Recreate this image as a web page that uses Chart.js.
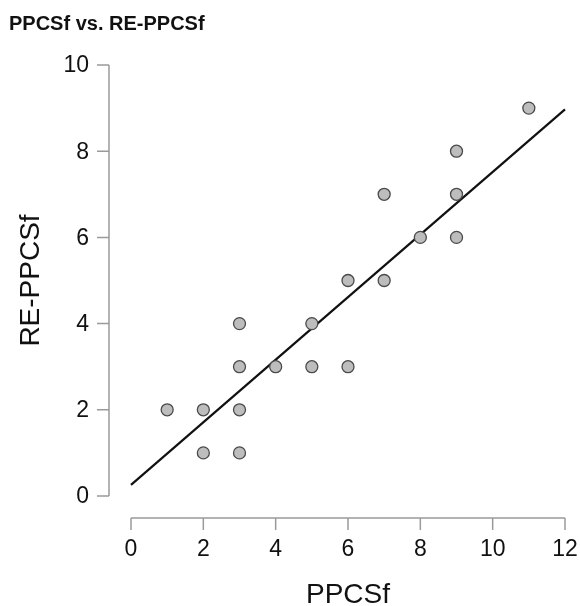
<!DOCTYPE html>
<html>
<head>
<meta charset="utf-8">
<script src="https://cdn.jsdelivr.net/npm/chart.js@4"></script>
<style>
  html, body { margin: 0; padding: 0; background: #fff; }
  #wrap { width: 580px; height: 606px; }
</style>
</head>
<body>
<div id="wrap"><canvas id="scatter"></canvas></div>
<script>
// observed pairs (PPCSf, RE-PPCSf)
const ppcsf   = [1, 2, 2, 3, 3, 3, 3, 4, 5, 5, 6, 6, 7, 7, 8, 9, 9, 9, 11];
const reppcsf = [2, 2, 1, 1, 2, 3, 4, 3, 3, 4, 3, 5, 5, 7, 6, 6, 7, 8, 9];

// fitted line, ends
const fitX = [0, 12];
const fitY = [0.26, 8.97];

const xTicks = [0, 2, 4, 6, 8, 10, 12];
const yTicks = [0, 2, 4, 6, 8, 10];

const chartTitle = "PPCSf vs. RE-PPCSf";
const xTitle = "PPCSf";
const yTitle = "RE-PPCSf";

const FONT = "'Liberation Sans', Arial, sans-serif";

// R-style detached axes drawn from the chart's own scales
const rAxes = {
    id: 'rAxes',
    afterDraw(chart) {
        const ctx = chart.ctx;
        const x = chart.scales.x, y = chart.scales.y;
        ctx.save();
        ctx.strokeStyle = '#9a9a9a';
        ctx.lineWidth = 1.5;

        // x axis
        const ax = y.getPixelForValue(0) + 22;
        ctx.beginPath();
        ctx.moveTo(x.getPixelForValue(xTicks[0]), ax);
        ctx.lineTo(x.getPixelForValue(xTicks[xTicks.length - 1]), ax);
        xTicks.forEach(v => {
            const px = x.getPixelForValue(v);
            ctx.moveTo(px, ax);
            ctx.lineTo(px, ax + 12);
        });
        ctx.stroke();

        // y axis
        const ay = x.getPixelForValue(0) - 22;
        ctx.beginPath();
        ctx.moveTo(ay, y.getPixelForValue(yTicks[0]));
        ctx.lineTo(ay, y.getPixelForValue(yTicks[yTicks.length - 1]));
        yTicks.forEach(v => {
            const py = y.getPixelForValue(v);
            ctx.moveTo(ay, py);
            ctx.lineTo(ay - 12, py);
        });
        ctx.stroke();

        // tick labels
        ctx.fillStyle = '#111';
        ctx.font = '23px ' + FONT;
        ctx.textAlign = 'center';
        ctx.textBaseline = 'middle';
        xTicks.forEach(v => ctx.fillText(String(v), x.getPixelForValue(v), ax + 32));
        ctx.textAlign = 'right';
        yTicks.forEach(v => ctx.fillText(String(v), ay - 20, y.getPixelForValue(v) + 1));

        // axis titles
        ctx.font = '28px ' + FONT;
        ctx.textAlign = 'center';
        ctx.fillText(xTitle, (x.left + x.right) / 2, 595);
        ctx.save();
        ctx.translate(31, (y.getPixelForValue(0) + y.getPixelForValue(10)) / 2);
        ctx.rotate(-Math.PI / 2);
        ctx.fillText(yTitle, 0, 0);
        ctx.restore();

        // main title
        ctx.font = 'bold 20px ' + FONT;
        ctx.textAlign = 'left';
        ctx.fillText(chartTitle, 9, 24);
        ctx.restore();
    }
};

const ctx = document.getElementById('scatter').getContext('2d');
new Chart(ctx, {
    type: 'scatter',
    data: {
        datasets: [{
            label: 'fit',
            type: 'line',
            data: fitX.map((v, i) => ({ x: v, y: fitY[i] })),
            borderColor: '#111',
            borderWidth: 2.2,
            pointRadius: 0,
            fill: false,
            clip: false,
            order: 1
        }, {
            label: 'points',
            data: ppcsf.map((v, i) => ({ x: v, y: reppcsf[i] })),
            backgroundColor: '#bdbdbd',
            borderColor: '#4a4a4a',
            borderWidth: 1.3,
            pointRadius: 6,
            pointHoverRadius: 6,
            clip: false,
            order: 0
        }]
    },
    options: {
        responsive: true,
        maintainAspectRatio: false,
        animation: false,
        layout: { padding: { left: 131, right: 15, top: 65, bottom: 110 } },
        plugins: {
            legend: { display: false },
            tooltip: { enabled: false }
        },
        scales: {
            x: { type: 'linear', min: 0, max: 12, display: false },
            y: { type: 'linear', min: 0, max: 10, display: false }
        }
    },
    plugins: [rAxes]
});
</script>
</body>
</html>
